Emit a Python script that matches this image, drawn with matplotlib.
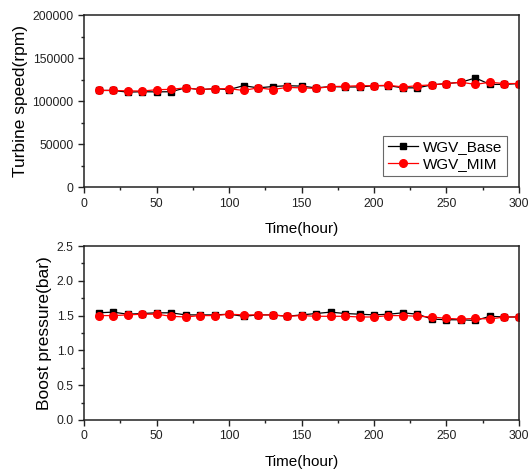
import matplotlib
matplotlib.use("Agg")
import matplotlib.pyplot as plt
from matplotlib.ticker import MultipleLocator

plt.rcParams['font.family'] = ['Liberation Sans', 'DejaVu Sans']

hours = [10, 20, 30, 40, 50, 60, 70, 80, 90, 100, 110, 120, 130, 140, 150,
         160, 170, 180, 190, 200, 210, 220, 230, 240, 250, 260, 270, 280, 290, 300]

speed_base = [112500, 112500, 110500, 111000, 110800, 111000, 115500, 113500, 114500, 113500,
              118000, 115500, 117000, 118000, 117500, 115500, 117000, 116500, 116500, 118000,
              118000, 115500, 115500, 119000, 120500, 122000, 127000, 119500, 119500, 120500]
speed_mim = [112500, 112500, 112000, 111800, 113300, 113800, 115500, 113500, 114500, 114500,
             112500, 115500, 113500, 116000, 115500, 114800, 117000, 117300, 118000, 118000,
             118500, 116500, 118000, 119000, 120500, 122000, 119500, 122000, 120500, 120500]

boost_base = [1.54, 1.55, 1.52, 1.53, 1.54, 1.54, 1.51, 1.51, 1.51, 1.52,
              1.49, 1.51, 1.51, 1.49, 1.51, 1.53, 1.55, 1.53, 1.52, 1.51,
              1.52, 1.54, 1.52, 1.45, 1.44, 1.44, 1.43, 1.49, 1.48, 1.48]
boost_mim = [1.50, 1.50, 1.51, 1.52, 1.52, 1.49, 1.48, 1.50, 1.50, 1.52,
             1.51, 1.51, 1.51, 1.49, 1.50, 1.49, 1.49, 1.49, 1.48, 1.48,
             1.50, 1.50, 1.49, 1.48, 1.46, 1.45, 1.46, 1.45, 1.48, 1.48]

labels = ['WGV_Base', 'WGV_MIM']

fig = plt.figure(figsize=(5.29, 4.75), dpi=100)
ax1 = fig.add_axes([0.159, 0.606, 0.822, 0.362])
ax2 = fig.add_axes([0.159, 0.116, 0.822, 0.366])

def style(ax):
    for s in ax.spines.values():
        s.set_linewidth(1.1)
        s.set_color('#222222')
    ax.tick_params(which='major', direction='out', length=4, width=1, labelsize=8.8, colors='#222222')
    ax.tick_params(which='minor', direction='out', length=2.5, width=1, colors='#222222')
    ax.set_xlim(0, 300)
    ax.xaxis.set_major_locator(MultipleLocator(50))
    ax.xaxis.set_minor_locator(MultipleLocator(25))
    ax.set_xlabel('Time(hour)', fontsize=11, labelpad=9)

ax1.plot(hours, speed_base, color='black', marker='s', markersize=4.5, linewidth=0.9, label=labels[0])
ax1.plot(hours, speed_mim, color='red', marker='o', markersize=5.5, linewidth=0.9, label=labels[1])
ax1.set_ylim(0, 200000)
ax1.yaxis.set_major_locator(MultipleLocator(50000))
ax1.yaxis.set_minor_locator(MultipleLocator(25000))
ax1.set_ylabel('Turbine speed(rpm)', fontsize=12.5, labelpad=3)
style(ax1)
leg = ax1.legend(loc='lower right', fontsize=11, frameon=True, fancybox=False,
                 edgecolor='#444444', borderpad=0.3, handlelength=2.0, labelspacing=0.2,
                 handletextpad=0.3, bbox_to_anchor=(0.99, 0.02))
leg.get_frame().set_linewidth(0.8)

ax2.plot(hours, boost_base, color='black', marker='s', markersize=4.5, linewidth=0.9, label=labels[0])
ax2.plot(hours, boost_mim, color='red', marker='o', markersize=5.5, linewidth=0.9, label=labels[1])
ax2.set_ylim(0, 2.5)
ax2.yaxis.set_major_locator(MultipleLocator(0.5))
ax2.yaxis.set_minor_locator(MultipleLocator(0.25))
ax2.set_ylabel('Boost pressure(bar)', fontsize=12.5, labelpad=3)
style(ax2)

fig.savefig('out.png', dpi=100)
